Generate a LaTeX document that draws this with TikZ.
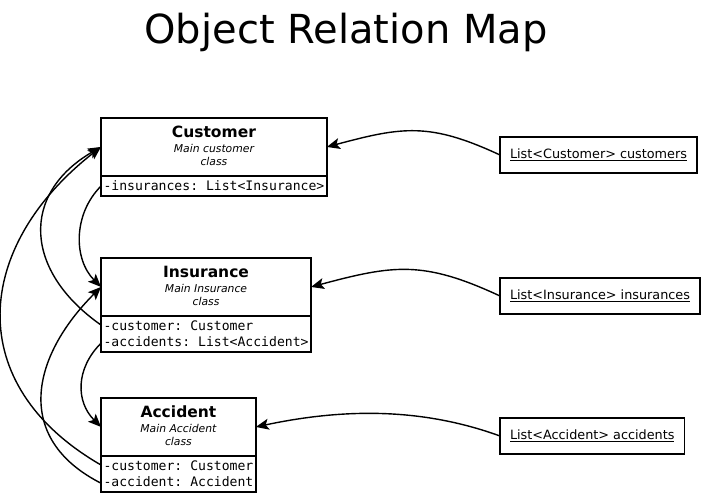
\documentclass[tikz,border=0pt]{standalone}
\usepackage{fontspec}
\setmainfont{DejaVu Sans}
\setmonofont{DejaVu Sans Mono}
\usepackage{tikz}
\usetikzlibrary{calc,positioning,shapes.multipart,arrows.meta}
\tikzstyle{umlclass} = [rectangle split, rectangle split parts=2, draw, line width=1.9pt,
                    inner xsep=2.5pt, inner ysep=0pt, outer sep=0pt, anchor=north west]
\tikzstyle{listref}  = [rectangle, draw, line width=1.9pt, inner xsep=10pt, inner ysep=0pt,
                    minimum height=36pt, outer sep=0pt, anchor=west,
                    font=\fontsize{12.8}{15}\selectfont]
\tikzstyle{link}     = [line width=1.4pt, ->, >={Stealth[length=13pt,width=11pt,inset=3pt]}]
\renewcommand{\arraystretch}{0}
\newcommand{\crow}[3]{\rule[-#2pt]{0pt}{\dimexpr#1pt+#2pt\relax}\smash{#3}}
\newcommand{\attrfont}{\ttfamily\fontsize{13.1}{16}\selectfont}
\newcommand{\clshead}[3]{\begin{tabular}{@{}c@{}}
		\crow{19}{0}{\fontsize{15.5}{18}\selectfont\bfseries #1}\\
		\crow{15}{0}{\fontsize{10.8}{13}\selectfont\itshape #2}\\
		\crow{13}{9}{\fontsize{10.8}{13}\selectfont\itshape #3}\end{tabular}}

\begin{document}
\begin{tikzpicture}[x=1pt, y=1pt]
		\useasboundingbox (0,0) rectangle (703,-492);
		\node[anchor=base, font=\fontsize{40}{48}\selectfont] (title) at (346,-44) {Object Relation Map};
		% classes
		\node[umlclass] (Customer) at (101,-118) {\clshead{Customer}{Main customer}{class}
			\nodepart{second}\begin{tabular}{@{}l@{}}\crow{14}{4.5}{\attrfont -insurances: List<Insurance>}\end{tabular}};
		\node[umlclass] (Insurance) at (101,-258) {\clshead{Insurance}{Main Insurance}{class}
			\nodepart{second}\begin{tabular}{@{}l@{}}\crow{14}{0}{\attrfont -customer: Customer}\\
			\crow{16}{4.5}{\attrfont -accidents: List<Accident>}\end{tabular}};
		\node[umlclass] (Accident) at (101,-398) {\clshead{Accident}{Main Accident}{class}
			\nodepart{second}\begin{tabular}{@{}l@{}}\crow{14}{0}{\attrfont -customer: Customer}\\
			\crow{16}{4.5}{\attrfont -accident: Accident}\end{tabular}};
		% lists
		\node[listref] (custList) at (500,-155) {\underline{List<Customer> customers}};
		\node[listref] (insList) at (500,-296) {\underline{List<Insurance> insurances}};
		\node[listref] (accList) at (500,-436) {\underline{List<Accident> accidents}};
		% anchor points
		\coordinate (cusW) at ($(Customer.north west)!0.5!(Customer.text split west)$);
		\coordinate (cusE) at ($(Customer.north east)!0.5!(Customer.text split east)$);
		\coordinate (insW) at ($(Insurance.north west)!0.5!(Insurance.text split west)$);
		\coordinate (insE) at ($(Insurance.north east)!0.5!(Insurance.text split east)$);
		\coordinate (accW) at ($(Accident.north west)!0.5!(Accident.text split west)$);
		\coordinate (accE) at ($(Accident.north east)!0.5!(Accident.text split east)$);
		\coordinate (cusAttr) at ($(Customer.text split west)!0.5!(Customer.south west)$);
		\coordinate (insCus) at ($(Insurance.text split west)!0.25!(Insurance.south west)$);
		\coordinate (insAcc) at ($(Insurance.text split west)!0.75!(Insurance.south west)$);
		\coordinate (accCus) at ($(Accident.text split west)!0.25!(Accident.south west)$);
		\coordinate (accAcc) at ($(Accident.text split west)!0.75!(Accident.south west)$);
		% references
		\draw[link] (custList.west) to[out=155,in=15,looseness=1.15] (cusE);
		\draw[link] (insList.west) to[out=155,in=15,looseness=1.15] (insE);
		\draw[link] (accList.west) to[out=160,in=12,looseness=0.9] (accE);
		\draw[link] (cusAttr) to[out=225,in=135] (insW);
		\draw[link] (insCus) to[out=145,in=210,looseness=1.35] (cusW);
		\draw[link] (insAcc) to[out=225,in=135,looseness=1.1] (accW);
		\draw[link] (accCus) to[out=150,in=218,looseness=1.3] (cusW);
		\draw[link] (accAcc) to[out=153,in=225,looseness=1.29] (insW);
	\end{tikzpicture}
\end{document}
